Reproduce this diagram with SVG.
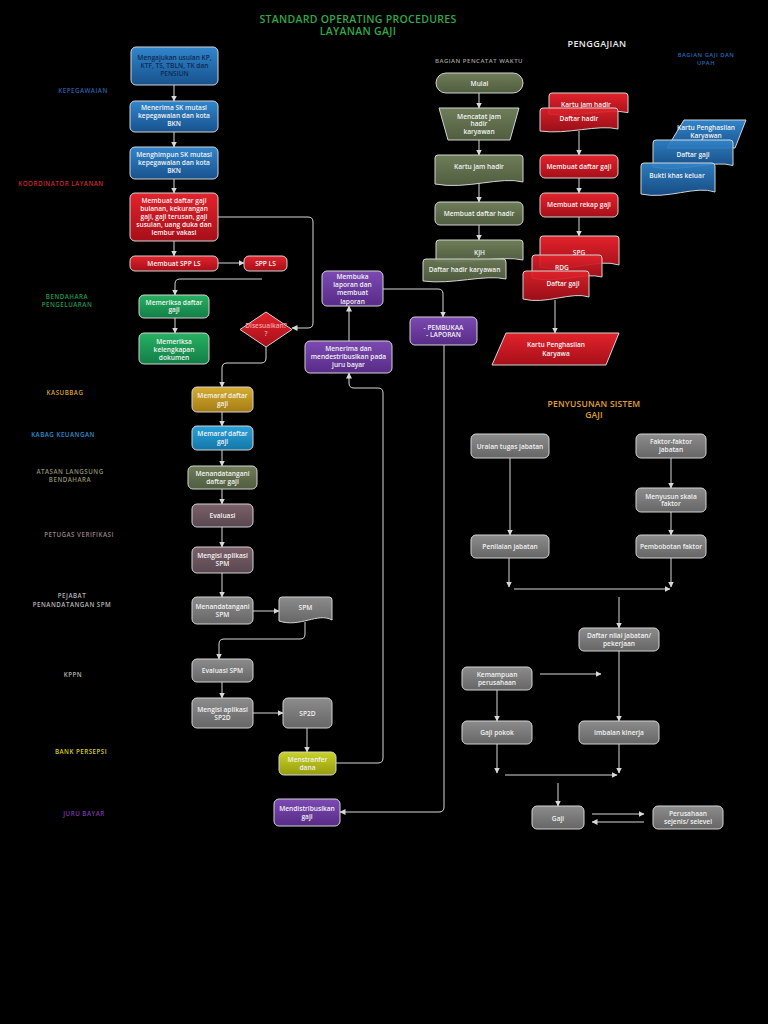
<svg xmlns="http://www.w3.org/2000/svg" width="768" height="1024" viewBox="0 0 768 1024">
<defs>
<linearGradient id="gBlue" x1="0" y1="0" x2="0" y2="1"><stop offset="0" stop-color="#3186cc"/><stop offset="1" stop-color="#18528e"/></linearGradient>
<linearGradient id="gRed" x1="0" y1="0" x2="0" y2="1"><stop offset="0" stop-color="#e2232c"/><stop offset="1" stop-color="#a60f19"/></linearGradient>
<linearGradient id="gGreen" x1="0" y1="0" x2="0" y2="1"><stop offset="0" stop-color="#26b262"/><stop offset="1" stop-color="#137d47"/></linearGradient>
<linearGradient id="gGold" x1="0" y1="0" x2="0" y2="1"><stop offset="0" stop-color="#d6ae30"/><stop offset="1" stop-color="#a47c16"/></linearGradient>
<linearGradient id="gLblue" x1="0" y1="0" x2="0" y2="1"><stop offset="0" stop-color="#2aa2da"/><stop offset="1" stop-color="#1577a8"/></linearGradient>
<linearGradient id="gOlive" x1="0" y1="0" x2="0" y2="1"><stop offset="0" stop-color="#6f7d59"/><stop offset="1" stop-color="#505d3f"/></linearGradient>
<linearGradient id="gMauve" x1="0" y1="0" x2="0" y2="1"><stop offset="0" stop-color="#7b6169"/><stop offset="1" stop-color="#59474f"/></linearGradient>
<linearGradient id="gGray" x1="0" y1="0" x2="0" y2="1"><stop offset="0" stop-color="#8c8c8c"/><stop offset="1" stop-color="#666666"/></linearGradient>
<linearGradient id="gYellow" x1="0" y1="0" x2="0" y2="1"><stop offset="0" stop-color="#cbd225"/><stop offset="1" stop-color="#959d10"/></linearGradient>
<linearGradient id="gPurple" x1="0" y1="0" x2="0" y2="1"><stop offset="0" stop-color="#7c4ab2"/><stop offset="1" stop-color="#572b87"/></linearGradient>
<marker id="arr" markerWidth="6" markerHeight="6" refX="5.5" refY="3" orient="auto" markerUnits="userSpaceOnUse"><path d="M0,0 L6,3 L0,6 z" fill="#d8d8d8"/></marker>
<style>
.n{stroke:#d4d4d4;stroke-width:1;stroke-linejoin:round}
.t{font-family:"Open Sans",Lato,"Liberation Sans",sans-serif;font-size:6.6px;font-weight:600;fill:#f2f2f2;text-anchor:middle}
.lb{font-family:"Open Sans",Lato,"Liberation Sans",sans-serif;font-size:6.2px;font-weight:600;letter-spacing:0.5px;text-anchor:middle}
.c{fill:none;stroke:#d8d8d8;stroke-width:1}
.a{marker-end:url(#arr)}
</style>
</defs>
<rect width="768" height="1024" fill="#000"/>

<g id="titles">
<text x="358" y="23" class="lb" style="font-size:10.5px;letter-spacing:0.3px" fill="#2ea84a">STANDARD OPERATING PROCEDURES</text>
<text x="358" y="35" class="lb" style="font-size:10.5px;letter-spacing:0.3px" fill="#2ea84a">LAYANAN GAJI</text>
<text x="597" y="47" class="lb" style="font-size:9px;letter-spacing:0.4px" fill="#e8e8e8">PENGGAJIAN</text>
<text x="706" y="57" class="lb" style="font-size:5.8px" fill="#2a6ab8">BAGIAN GAJI DAN</text>
<text x="706" y="65" class="lb" style="font-size:5.8px" fill="#2a6ab8">UPAH</text>
<text x="479" y="63" class="lb" style="font-size:6px" fill="#a0a0a0">BAGIAN PENCATAT WAKTU</text>
<text x="594" y="407" class="lb" style="font-size:8.5px;letter-spacing:0.2px" fill="#e0a030">PENYUSUNAN SISTEM</text>
<text x="594" y="418" class="lb" style="font-size:8.5px;letter-spacing:0.2px" fill="#e0a030">GAJI</text>
</g>

<g id="lanes">
<text x="83" y="93" class="lb" fill="#2b5fa8">KEPEGAWAIAN</text>
<text x="61" y="186" class="lb" fill="#c8282d">KOORDINATOR LAYANAN</text>
<text x="67" y="299" class="lb" fill="#1e9a4e">BENDAHARA</text>
<text x="67" y="307" class="lb" fill="#1e9a4e">PENGELUARAN</text>
<text x="65" y="395" class="lb" fill="#d9a030">KASUBBAG</text>
<text x="63" y="437" class="lb" fill="#2a8fd0">KABAG KEUANGAN</text>
<text x="70" y="474" class="lb" fill="#8e9070">ATASAN LANGSUNG</text>
<text x="70" y="482" class="lb" fill="#8e9070">BENDAHARA</text>
<text x="79" y="537" class="lb" fill="#9a8088">PETUGAS VERIFIKASI</text>
<text x="72" y="598" class="lb" fill="#b4b4b4">PEJABAT</text>
<text x="72" y="607" class="lb" fill="#b4b4b4">PENANDATANGAN SPM</text>
<text x="73" y="677" class="lb" fill="#b4b4b4">KPPN</text>
<text x="81" y="754" class="lb" fill="#d8d020">BANK PERSEPSI</text>
<text x="84" y="816" class="lb" fill="#7a3aa8">JURU BAYAR</text>
</g>

<g id="connectors">
<path class="c a" d="M174,85 V101"/>
<path class="c a" d="M174,132 V147"/>
<path class="c a" d="M174,179 V193"/>
<path class="c a" d="M174,241 V256"/>
<path class="c a" d="M218,263 H244"/>
<path class="c a" d="M218,217 H308 Q313,217 313,222 V323 Q313,328 308,328 H292"/>
<path class="c a" d="M262,279 H180 Q175,279 175,284 V295"/>
<path class="c a" d="M175,318 V333"/>
<path class="c a" d="M266,347 V358 Q266,363 261,363 H227 Q222,363 222,368 V387"/>
<path class="c a" d="M222,412 V426"/>
<path class="c a" d="M222,450 V466"/>
<path class="c a" d="M222,489 V504"/>
<path class="c a" d="M222,527 V547"/>
<path class="c a" d="M222,573 V597"/>
<path class="c a" d="M253,611 H279"/>
<path class="c a" d="M305,622 V634 Q305,639 300,639 H224 Q219,639 219,644 V659"/>
<path class="c a" d="M222,682 V698"/>
<path class="c a" d="M253,713 H283"/>
<path class="c a" d="M307,728 V752"/>
<path class="c a" d="M336,763 H378 Q383,763 383,758 V393 Q383,388 378,388 H354 Q349,388 349,383 V373"/>
<path class="c a" d="M349,341 V306"/>
<path class="c a" d="M383,289 H438 Q443,289 443,294 V317"/>
<path class="c a" d="M444,345 V807 Q444,812 439,812 H340"/>
<path class="c a" d="M479,93 V108"/>
<path class="c a" d="M479,140 V155"/>
<path class="c a" d="M479,184 V202"/>
<path class="c a" d="M479,225 V240"/>
<path class="c a" d="M579,131 V155"/>
<path class="c a" d="M579,178 V193"/>
<path class="c a" d="M579,217 V236"/>
<path class="c a" d="M555,300 V333"/>
<path class="c a" d="M510,458 V535"/>
<path class="c a" d="M671,458 V488"/>
<path class="c a" d="M671,512 V535"/>
<path class="c a" d="M509,558 V587"/>
<path class="c a" d="M671,558 V587"/>
<path class="c a" d="M514,589 H670"/>
<path class="c a" d="M619,597 V628"/>
<path class="c a" d="M540,674 H601"/>
<path class="c a" d="M497,690 V721"/>
<path class="c a" d="M619,651 V721"/>
<path class="c a" d="M497,744 V773"/>
<path class="c a" d="M619,744 V773"/>
<path class="c a" d="M505,775 H617"/>
<path class="c a" d="M558,783 V806"/>
<path class="c a" d="M592,814 H644"/>
<path class="c a" d="M644,822 H592"/>
</g>

<g id="n-mengajukan"><rect class="n" x="131" y="47" width="87" height="38" rx="5" fill="url(#gBlue)"/>
<text class="t" x="174.5" y="60" style="fill:#0b2a55">Mengajukan usulan KP,</text><text class="t" x="174.5" y="68" style="fill:#0b2a55">KTF, TS, TBLN, TK dan</text><text class="t" x="174.5" y="76" style="fill:#0b2a55">PENSIUN</text></g>
<g id="n-menerima-sk"><rect class="n" x="130" y="101" width="88" height="31" rx="5" fill="url(#gBlue)"/>
<text class="t" x="174" y="110">Menerima SK mutasi</text><text class="t" x="174" y="118">kepegawaian dan kota</text><text class="t" x="174" y="126">BKN</text></g>
<g id="n-menghimpun"><rect class="n" x="130" y="147" width="88" height="32" rx="5" fill="url(#gBlue)"/>
<text class="t" x="174" y="156.5">Menghimpun SK mutasi</text><text class="t" x="174" y="164.5">kepegawaian dan kota</text><text class="t" x="174" y="172.5">BKN</text></g>
<g id="n-membuat-daftar"><rect class="n" x="130" y="193" width="88" height="48" rx="5" fill="url(#gRed)"/>
<text class="t" x="174" y="202.5">Membuat daftar gaji</text><text class="t" x="174" y="210.5">bulanan, kekurangan</text><text class="t" x="174" y="218.5">gaji, gaji terusan, gaji</text><text class="t" x="174" y="226.5">susulan, uang duka dan</text><text class="t" x="174" y="234.5">lembur vakasi</text></g>
<g id="n-spp"><rect class="n" x="130" y="256" width="88" height="15" rx="5" fill="url(#gRed)"/>
<text class="t" x="174" y="266">Membuat SPP LS</text></g>
<g id="n-sppls"><rect class="n" x="244" y="256" width="43" height="15" rx="5" fill="url(#gRed)"/>
<text class="t" x="265.5" y="266">SPP LS</text></g>
<g id="n-memeriksa-daftar"><rect class="n" x="139" y="295" width="70" height="23" rx="5" fill="url(#gGreen)"/>
<text class="t" x="174" y="304.5">Memeriksa daftar</text><text class="t" x="174" y="312">gaji</text></g>
<g id="n-memeriksa-kel"><rect class="n" x="139" y="333" width="70" height="31" rx="5" fill="url(#gGreen)"/>
<text class="t" x="174" y="343.5">Memeriksa</text><text class="t" x="174" y="351.5">kelengkapan</text><text class="t" x="174" y="359.5">dokumen</text></g>
<g id="n-disesuaikan"><polygon class="n" points="266,312 292,329.5 266,347 240,329.5" fill="url(#gRed)"/>
<text class="t" x="266" y="327.5" style="fill:#f6a5a5">Disesuaikan?</text><text class="t" x="266" y="335.5" style="fill:#f6a5a5">?</text></g>
<g id="n-memaraf1"><rect class="n" x="192" y="387" width="61" height="25" rx="5" fill="url(#gGold)"/>
<text class="t" x="222.5" y="397.5">Memaraf daftar</text><text class="t" x="222.5" y="406">gaji</text></g>
<g id="n-memaraf2"><rect class="n" x="192" y="426" width="61" height="24" rx="5" fill="url(#gLblue)"/>
<text class="t" x="222.5" y="435.5">Memaraf daftar</text><text class="t" x="222.5" y="444">gaji</text></g>
<g id="n-menandatangani"><rect class="n" x="188" y="466" width="69" height="23" rx="5" fill="url(#gOlive)"/>
<text class="t" x="222.5" y="475.5">Menandatangani</text><text class="t" x="222.5" y="483.5">daftar gaji</text></g>
<g id="n-evaluasi"><rect class="n" x="192" y="504" width="61" height="23" rx="5" fill="url(#gMauve)"/>
<text class="t" x="222.5" y="518">Evaluasi</text></g>
<g id="n-mengisi-spm"><rect class="n" x="192" y="547" width="61" height="26" rx="5" fill="url(#gMauve)"/>
<text class="t" x="222.5" y="557.5">Mengisi aplikasi</text><text class="t" x="222.5" y="565.5">SPM</text></g>
<g id="n-ttd-spm"><rect class="n" x="192" y="597" width="61" height="27" rx="5" fill="url(#gGray)"/>
<text class="t" x="222.5" y="608.5">Menandatangani</text><text class="t" x="222.5" y="616.5">SPM</text></g>
<g id="n-spm"><path class="n" d="M279,600 Q279,597 282,597 H329 Q332,597 332,600 V620 C318,612 300,628 279,621 Z" fill="url(#gGray)"/>
<text class="t" x="305.5" y="609.5">SPM</text></g>
<g id="n-eval-spm"><rect class="n" x="192" y="659" width="61" height="23" rx="5" fill="url(#gGray)"/>
<text class="t" x="222.5" y="672.5">Evaluasi SPM</text></g>
<g id="n-mengisi-sp2d"><rect class="n" x="192" y="698" width="61" height="30" rx="5" fill="url(#gGray)"/>
<text class="t" x="222.5" y="711.5">Mengisi aplikasi</text><text class="t" x="222.5" y="719.5">SP2D</text></g>
<g id="n-sp2d"><rect class="n" x="283" y="698" width="49" height="30" rx="5" fill="url(#gGray)"/>
<text class="t" x="307.5" y="715.5">SP2D</text></g>
<g id="n-menstranfer"><rect class="n" x="279" y="752" width="57" height="23" rx="5" fill="url(#gYellow)"/>
<text class="t" x="307.5" y="761.5">Menstranfer</text><text class="t" x="307.5" y="769.5">dana</text></g>
<g id="n-mendistribusikan"><rect class="n" x="274" y="799" width="66" height="27" rx="5" fill="url(#gPurple)"/>
<text class="t" x="307" y="810.5">Mendistribusikan</text><text class="t" x="307" y="819">gaji</text></g>
<g id="n-membuka"><rect class="n" x="322" y="271" width="61" height="35" rx="5" fill="url(#gPurple)"/>
<text class="t" x="352.5" y="278.5">Membuka</text><text class="t" x="352.5" y="286.5">laporan dan</text><text class="t" x="352.5" y="295">membuat</text><text class="t" x="352.5" y="303.5">laporan</text></g>
<g id="n-menerima-juru"><rect class="n" x="305" y="341" width="87" height="32" rx="5" fill="url(#gPurple)"/>
<text class="t" x="348.5" y="350.5">Menerima dan</text><text class="t" x="348.5" y="359">mendestribusikan pada</text><text class="t" x="348.5" y="367">juru bayar</text></g>
<g id="n-pembukaa"><rect class="n" x="410" y="317" width="67" height="28" rx="5" fill="url(#gPurple)"/>
<text class="t" x="443.5" y="329.5">- PEMBUKAA</text><text class="t" x="443.5" y="337">- LAPORAN</text></g>

<g id="n-mulai"><rect class="n" x="436" y="73" width="87" height="20" rx="10" fill="url(#gOlive)"/>
<text class="t" x="479.5" y="85.5">Mulai</text></g>
<g id="n-mencatat"><polygon class="n" points="439,108 519,108 510,140 448,140" fill="url(#gOlive)"/>
<text class="t" x="479" y="118.5">Mencatat jam</text><text class="t" x="479" y="126">hadir</text><text class="t" x="479" y="133.5">karyawan</text></g>
<g id="n-kartu-jam"><path class="n" d="M435,158 Q435,155 438,155 H520 Q523,155 523,158 V182 C501,176 466,190 435,184 Z" fill="url(#gOlive)"/>
<text class="t" x="479" y="168.5">Kartu jam hadir</text></g>
<g id="n-membuat-hadir"><rect class="n" x="435" y="202" width="88" height="23" rx="5" fill="url(#gOlive)"/>
<text class="t" x="479" y="215.5">Membuat daftar hadir</text></g>
<g id="n-kjh"><path class="n" d="M436,243 Q436,240 439,240 H520 Q523,240 523,243 V260 C501,255 466,265 436,261 Z" fill="url(#gOlive)"/>
<text class="t" x="479.5" y="254.5">KJH</text></g>
<g id="n-daftar-hadir-kary"><path class="n" d="M423,262 Q423,259 426,259 H503 Q506,259 506,262 V279 C485,274 452,285 423,281 Z" fill="url(#gOlive)" fill-opacity="0.95"/>
<text class="t" x="464.5" y="271.5">Daftar hadir karyawan</text></g>

<g id="n-kartu-jam-r"><path class="n" d="M549,96 Q549,93 552,93 H625 Q628,93 628,96 V112.6 C608,108 573,118 549,114 Z" fill="url(#gRed)"/>
<text class="t" x="586" y="106.5">Kartu jam hadir</text></g>
<g id="n-daftar-hadir-r"><path class="n" d="M540,111 Q540,108 543,108 H615 Q618,108 618,111 V129 C598,124 567,135 540,131 Z" fill="url(#gRed)" fill-opacity="0.93"/>
<text class="t" x="579" y="120.5">Daftar hadir</text></g>
<g id="n-membuat-gaji"><rect class="n" x="540" y="155" width="78" height="23" rx="5" fill="url(#gRed)"/>
<text class="t" x="579" y="168.5">Membuat daftar gaji</text></g>
<g id="n-rekap"><rect class="n" x="540" y="193" width="78" height="24" rx="5" fill="url(#gRed)"/>
<text class="t" x="579" y="207">Membuat rekap gaji</text></g>
<g id="n-spg"><path class="n" d="M540,239 Q540,236 543,236 H616 Q619,236 619,239 V265 C599,258 568,273 540,267 Z" fill="url(#gRed)"/>
<text class="t" x="579" y="254.5">SPG</text></g>
<g id="n-rdg"><path class="n" d="M532,258 Q532,255 535,255 H599 Q602,255 602,258 V277 C584,272 556,284 532,278 Z" fill="url(#gRed)" fill-opacity="0.93"/>
<text class="t" x="562" y="269.5">RDG</text></g>
<g id="n-daftar-gaji-r"><path class="n" d="M523,274 Q523,271 526,271 H586 Q589,271 589,274 V297 C572,291 546,305 523,299 Z" fill="url(#gRed)" fill-opacity="0.93"/>
<text class="t" x="563" y="285.5">Daftar gaji</text></g>
<g id="n-kartu-peng-r"><polygon class="n" points="506,333 619,333 606,365 492,365" fill="url(#gRed)"/>
<text class="t" x="556" y="346.5">Kartu Penghasilan</text><text class="t" x="556" y="355.5">Karyawa</text></g>

<g id="n-kartu-peng-b"><polygon class="n" points="684,120 746,120 735,148 667,148" fill="url(#gBlue)"/>
<text class="t" x="706" y="129.5">Kartu Penghasilan</text><text class="t" x="706" y="137.5">Karyawan</text></g>
<g id="n-daftar-gaji-b"><path class="n" d="M653,143 Q653,140 656,140 H730 Q733,140 733,143 V165.5 C713,159.5 681,173 653,167 Z" fill="url(#gBlue)" fill-opacity="0.93"/>
<text class="t" x="693" y="156.5">Daftar gaji</text></g>
<g id="n-bukti"><path class="n" d="M641,166 Q641,163 644,163 H712 Q715,163 715,166 V192 C696,185 667,200 641,194 Z" fill="url(#gBlue)" fill-opacity="0.93"/>
<text class="t" x="677" y="177.5">Bukti khas keluar</text></g>

<g id="n-uraian"><rect class="n" x="471" y="434" width="78" height="24" rx="5" fill="url(#gGray)"/>
<text class="t" x="510" y="448.5">Uraian tugas jabatan</text></g>
<g id="n-faktor"><rect class="n" x="636" y="434" width="70" height="24" rx="5" fill="url(#gGray)"/>
<text class="t" x="671" y="443.5">Faktor-faktor</text><text class="t" x="671" y="451.5">jabatan</text></g>
<g id="n-skala"><rect class="n" x="636" y="488" width="70" height="24" rx="5" fill="url(#gGray)"/>
<text class="t" x="671" y="498.5">Menyusun skala</text><text class="t" x="671" y="506">faktor</text></g>
<g id="n-penilaian"><rect class="n" x="471" y="535" width="78" height="23" rx="5" fill="url(#gGray)"/>
<text class="t" x="510" y="548.5">Penilaian jabatan</text></g>
<g id="n-pembobotan"><rect class="n" x="636" y="535" width="70" height="23" rx="5" fill="url(#gGray)"/>
<text class="t" x="671" y="548.5">Pembobotan faktor</text></g>
<g id="n-daftar-nilai"><rect class="n" x="579" y="628" width="80" height="23" rx="5" fill="url(#gGray)"/>
<text class="t" x="619" y="637.5">Daftar nilai jabatan/</text><text class="t" x="619" y="645.5">pekerjaan</text></g>
<g id="n-kemampuan"><rect class="n" x="462" y="667" width="70" height="23" rx="5" fill="url(#gGray)"/>
<text class="t" x="497" y="676.5">Kemampuan</text><text class="t" x="497" y="684.5">perusahaan</text></g>
<g id="n-gaji-pokok"><rect class="n" x="462" y="721" width="70" height="23" rx="5" fill="url(#gGray)"/>
<text class="t" x="497" y="734.5">Gaji pokok</text></g>
<g id="n-imbalan"><rect class="n" x="579" y="721" width="80" height="23" rx="5" fill="url(#gGray)"/>
<text class="t" x="619" y="734.5">Imbalan kinerja</text></g>
<g id="n-gaji"><rect class="n" x="532" y="806" width="52" height="23" rx="5" fill="url(#gGray)"/>
<text class="t" x="558" y="820.5">Gaji</text></g>
<g id="n-perusahaan"><rect class="n" x="653" y="806" width="70" height="23" rx="5" fill="url(#gGray)"/>
<text class="t" x="688" y="815.5">Perusahaan</text><text class="t" x="688" y="823.5">sejenis/ selevel</text></g>
</svg>
